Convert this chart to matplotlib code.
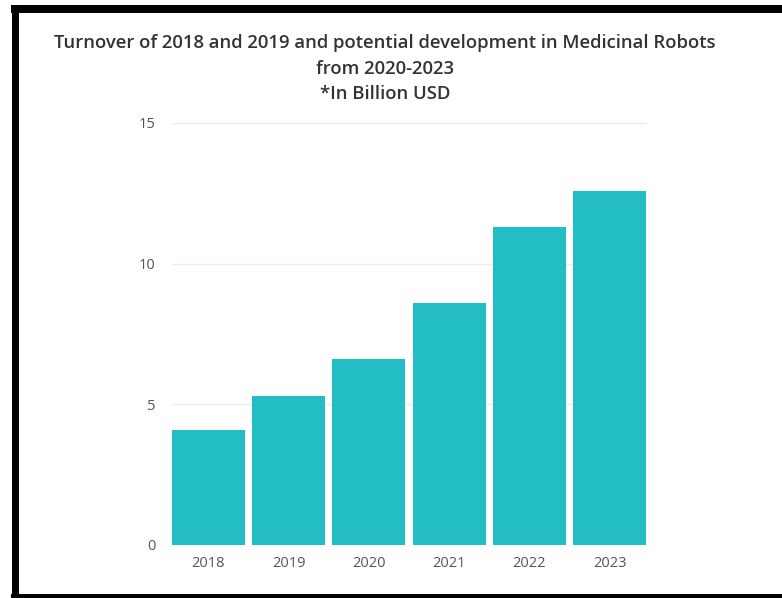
import matplotlib
matplotlib.use("Agg")
import matplotlib.pyplot as plt
from matplotlib.lines import Line2D

years = ["2018", "2019", "2020", "2021", "2022", "2023"]
turnover = [4.1, 5.3, 6.6, 8.6, 11.3, 12.6]
yticks = [0, 5, 10, 15]
title_lines = ["Turnover of 2018 and 2019 and potential development in Medicinal Robots",
               "from 2020-2023",
               "*In Billion USD"]

W, H = 782, 598
fig = plt.figure(figsize=(W / 100, H / 100), dpi=100)
fig.patch.set_facecolor("white")

ax = fig.add_axes([172 / W, (H - 545) / H, 474 / W, 422 / H])
x = list(range(len(years)))
ax.bar(x, turnover, width=0.91, color="#23BDC5", zorder=3)
ax.set_xlim(-0.455, len(years) - 1 + 0.455)
ax.set_ylim(0, 15)
ax.set_yticks(yticks)
ax.set_yticklabels([str(t) for t in yticks])
ax.set_xticks(x)
ax.set_xticklabels(years)
ax.grid(axis="y", color="#ececec", linewidth=1.0, zorder=0)
for s in ax.spines.values():
    s.set_visible(False)
ax.tick_params(axis="both", length=0, labelsize=10.5, labelcolor="#555555")
ax.tick_params(axis="x", pad=8)
ax.tick_params(axis="y", pad=12)
for lab in ax.get_xticklabels() + ax.get_yticklabels():
    lab.set_family("Open Sans")

ys = [43, 69, 94]
for t, yy in zip(title_lines, ys):
    fig.text(385 / W, 1 - yy / H, t, ha="center", va="center", fontsize=13.3,
             family="Open Sans", color="#333333", fontweight="semibold")

# black frame (left, top, bottom)
fig.add_artist(Line2D([14.5 / W, 14.5 / W], [1 - 9 / H, 1 - 596 / H], transform=fig.transFigure,
                      color="black", linewidth=7 * 0.72, solid_capstyle="butt"))
fig.add_artist(Line2D([11 / W, 1.0], [1 - 9 / H, 1 - 9 / H], transform=fig.transFigure,
                      color="black", linewidth=8 * 0.72, solid_capstyle="butt"))
fig.add_artist(Line2D([11 / W, 1.0], [1 - 596 / H, 1 - 596 / H], transform=fig.transFigure,
                      color="black", linewidth=4 * 0.72, solid_capstyle="butt"))

fig.savefig("out.png", dpi=100)
